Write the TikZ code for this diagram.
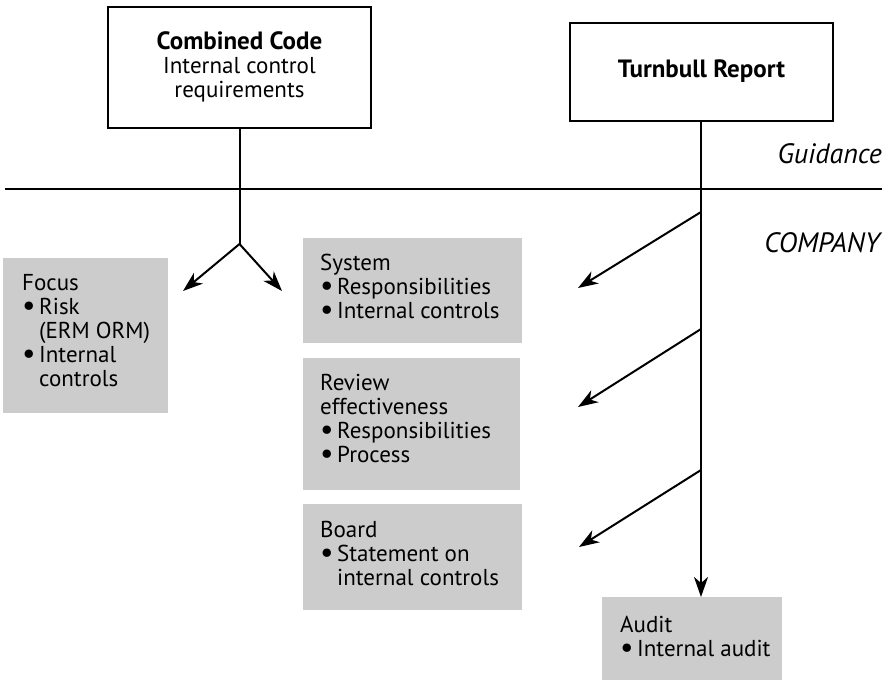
\documentclass[tikz,border=0pt]{standalone}
\usepackage{fontspec}
\setmainfont{PT Sans}
\usetikzlibrary{arrows.meta}
\definecolor{panel}{HTML}{CCCCCC}
\newcommand{\bul}{\makebox[17pt][l]{\raisebox{-1.6pt}{\scalebox{1.3}{\textbullet}}}}
\newcommand{\ind}{\hspace*{17pt}}
\newcommand{\head}[1]{{\fontsize{25}{24}\selectfont\bfseries #1}}
\tikzset{
  lbl/.style={font=\fontsize{23}{24}\selectfont, inner sep=0pt},
  zone/.style={font=\fontsize{28}{30}\selectfont\itshape, inner sep=0pt},
  whitebox/.style={draw=black, line width=1.6pt, fill=white},
  greybox/.style={fill=panel, draw=none},
  conn/.style={line width=2pt},
  arr/.style={conn, -{Stealth[length=20pt,width=14pt,inset=6pt]}},
}
\begin{document}
\begin{tikzpicture}[x=1pt,y=-1pt]
\useasboundingbox (0,0) rectangle (894,683);

% source boxes
\draw[whitebox] (108,7) rectangle (371,128);
\node[lbl, align=center] (cc) at (239.5,67) {\head{Combined Code}\\Internal control\\requirements};
\coordinate (ccs) at (239.5,128);
\draw[whitebox] (570,23) rectangle (833,121);
\node[lbl] (tr) at (701.5,71) {\head{Turnbull Report}};
\coordinate (trs) at (701,121);

% divider
\coordinate (divL) at (5,189);
\coordinate (divR) at (882,189);
\draw[conn] (divL) -- (divR);
\node[zone, anchor=base east] (guid) at (882,163) {Guidance};
\node[zone, anchor=base east] (comp) at (880,252) {COMPANY};

% company panels
\fill[greybox] (3,258) rectangle (168,413);
\node[lbl, anchor=base west] (focus) at (22,290) {\begin{tabular}[t]{@{}l@{}}Focus\\\bul Risk\\\ind(ERM ORM)\\\bul Internal\\\ind controls\end{tabular}};

\fill[greybox] (303,238) rectangle (522,343);
\node[lbl, anchor=base west] (system) at (320,270) {\begin{tabular}[t]{@{}l@{}}System\\\bul Responsibilities\\\bul Internal controls\end{tabular}};

\fill[greybox] (303,358) rectangle (520,490);
\node[lbl, anchor=base west] (review) at (320,390) {\begin{tabular}[t]{@{}l@{}}Review\\effectiveness\\\bul Responsibilities\\\bul Process\end{tabular}};

\fill[greybox] (303,504) rectangle (522,610);
\node[lbl, anchor=base west] (board) at (320,537) {\begin{tabular}[t]{@{}l@{}}Board\\\bul Statement on\\\ind internal controls\end{tabular}};

\fill[greybox] (602,597) rectangle (782,680);
\coordinate (auditn) at (701,597);
\node[lbl, anchor=base west] (audit) at (620,632) {\begin{tabular}[t]{@{}l@{}}Audit\\\bul Internal audit\end{tabular}};

% Combined Code fork
\coordinate (fork) at (239.5,244);
\coordinate (forkL) at (183,291);
\coordinate (forkR) at (282,291);
\draw[conn] (ccs) -- (fork);
\draw[arr] (fork) -- (forkL);
\draw[arr] (fork) -- (forkR);

% Turnbull spine and branches
\draw[arr] (trs) -- (auditn);
\coordinate (b1) at (701,212);
\coordinate (t1) at (578,288);
\coordinate (b2) at (701,329);
\coordinate (t2) at (578,407);
\coordinate (b3) at (701,470);
\coordinate (t3) at (579,547);
\draw[arr] (b1) -- (t1);
\draw[arr] (b2) -- (t2);
\draw[arr] (b3) -- (t3);
\end{tikzpicture}
\end{document}
